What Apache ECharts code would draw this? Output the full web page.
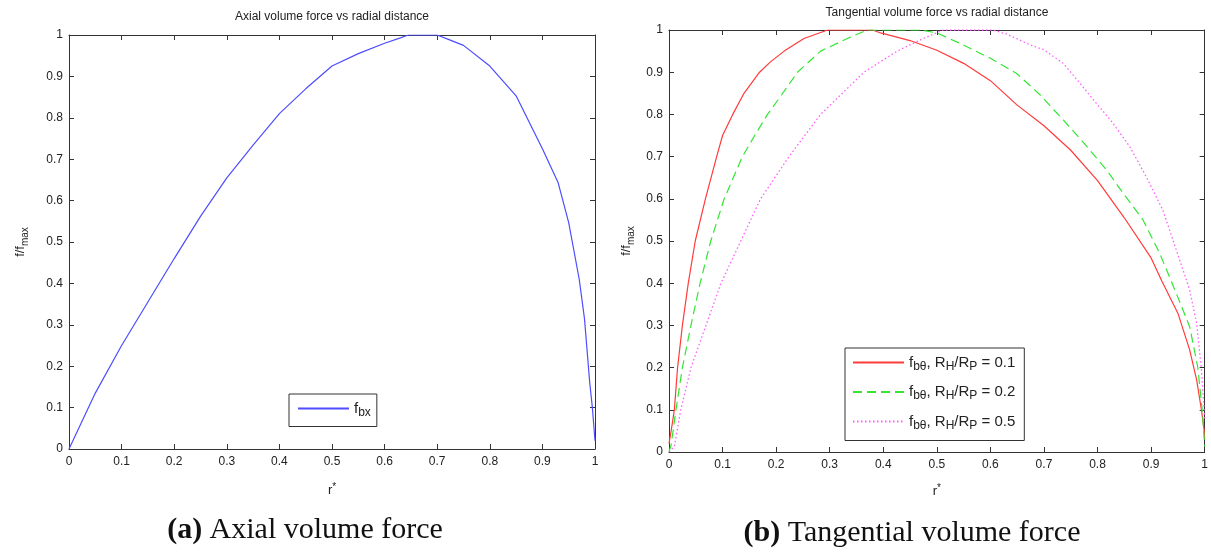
<!DOCTYPE html>
<html>
<head>
<meta charset="utf-8">
<script src="https://cdn.jsdelivr.net/npm/echarts@6/dist/echarts.min.js"></script>
<style>
html,body{margin:0;padding:0;background:#fff;}
#c{width:1211px;height:553px;}
</style>
</head>
<body>
<div id="c"></div>
<script>
// ---- data ----
var axialR = [0, 0.05, 0.1, 0.15, 0.2, 0.25, 0.3, 0.35, 0.4, 0.45, 0.5, 0.55, 0.6, 0.63, 0.645, 0.66, 0.68, 0.7, 0.72, 0.75, 0.8, 0.85, 0.9, 0.93, 0.95, 0.97, 0.98, 0.99, 0.995, 1.0];
var axialF = [0, 0.135, 0.25, 0.355, 0.46, 0.562, 0.655, 0.734, 0.81, 0.87, 0.925, 0.955, 0.98, 0.993, 1.0, 1.0, 1.0, 1.0, 0.99, 0.975, 0.925, 0.853, 0.725, 0.643, 0.547, 0.41, 0.315, 0.16, 0.1, 0.02];

var tanR1 = [0, 0.004, 0.01, 0.016, 0.025, 0.036, 0.049, 0.068, 0.089, 0.1, 0.119, 0.14, 0.169, 0.19, 0.215, 0.252, 0.296, 0.34, 0.38, 0.395, 0.45, 0.5, 0.55, 0.6, 0.65, 0.7, 0.75, 0.8, 0.85, 0.9, 0.92, 0.95, 0.972, 0.985, 0.994, 0.999, 1.0];
var tanF1 = [0.02, 0.05, 0.1, 0.2, 0.3, 0.4, 0.5, 0.6, 0.7, 0.75, 0.8, 0.85, 0.9, 0.925, 0.95, 0.98, 1.0, 1.0, 1.0, 0.993, 0.975, 0.952, 0.921, 0.88, 0.822, 0.773, 0.715, 0.643, 0.555, 0.46, 0.405, 0.329, 0.242, 0.171, 0.1, 0.052, 0.03];

var tanR2 = [0, 0.004, 0.013, 0.025, 0.041, 0.058, 0.078, 0.103, 0.137, 0.16, 0.184, 0.21, 0.24, 0.283, 0.333, 0.37, 0.42, 0.47, 0.5, 0.544, 0.6, 0.649, 0.693, 0.736, 0.78, 0.817, 0.848, 0.885, 0.916, 0.947, 0.972, 0.987, 0.996, 1.0];
var tanF2 = [0, 0.017, 0.1, 0.2, 0.3, 0.4, 0.5, 0.6, 0.7, 0.75, 0.8, 0.846, 0.9, 0.95, 0.98, 1.0, 1.0, 1.0, 0.993, 0.968, 0.933, 0.897, 0.846, 0.787, 0.724, 0.668, 0.613, 0.55, 0.471, 0.376, 0.297, 0.202, 0.092, 0.013];

var tanR3 = [0, 0.01, 0.022, 0.041, 0.069, 0.097, 0.134, 0.171, 0.224, 0.283, 0.364, 0.426, 0.475, 0.512, 0.56, 0.605, 0.631, 0.674, 0.7, 0.736, 0.767, 0.798, 0.829, 0.86, 0.891, 0.922, 0.947, 0.972, 0.985, 0.994, 1.0];
var tanF3 = [0, 0.013, 0.1, 0.2, 0.3, 0.4, 0.5, 0.6, 0.7, 0.8, 0.9, 0.95, 0.98, 1.0, 1.0, 1.0, 0.99, 0.965, 0.953, 0.921, 0.874, 0.826, 0.779, 0.724, 0.652, 0.573, 0.479, 0.384, 0.305, 0.195, 0.08];

var legendTexts = {
  fbx: '{n|f}{s|bx}',
  fbt1: '{n|f}{s|bθ}{n|, R}{s|H}{n|/R}{s|P}{n| = 0.1}',
  fbt2: '{n|f}{s|bθ}{n|, R}{s|H}{n|/R}{s|P}{n| = 0.2}',
  fbt3: '{n|f}{s|bθ}{n|, R}{s|H}{n|/R}{s|P}{n| = 0.5}'
};
var titleLeft = 'Axial volume force vs radial distance';
var titleRight = 'Tangential volume force vs radial distance';
var captionLeftTag = '(a)';
var captionLeftText = ' Axial volume force';
var captionRightTag = '(b)';
var captionRightText = ' Tangential volume force';

function pairs(xs, ys) { return xs.map(function (x, i) { return [x, ys[i]]; }); }

var SANS = 'Liberation Sans, Arial, sans-serif';
var SERIF = 'Liberation Serif, DejaVu Serif, serif';
var AX = '#333';
var TXT = '#222';

var richN = { fontSize: 15, lineHeight: 20, verticalAlign: 'middle', fontFamily: SANS, color: TXT };
var richS = { fontSize: 12, lineHeight: 12, verticalAlign: 'bottom', fontFamily: SANS, color: TXT };
var richYS = { fontSize: 10, lineHeight: 10, verticalAlign: 'bottom', fontFamily: SANS, color: TXT };

function mkX(gridIndex, pos, showLabel, nameGap) {
  return {
    type: 'value', gridIndex: gridIndex, position: pos, min: 0, max: 1, interval: 0.1,
    axisLine: { show: true, onZero: false, lineStyle: { color: AX, width: 1 } },
    axisTick: { show: true, inside: true, length: 5, lineStyle: { color: AX } },
    axisLabel: { show: showLabel, color: TXT, fontSize: 12, fontFamily: SANS, margin: 7 },
    splitLine: { show: false },
    name: showLabel ? '{n|r}{u|*}' : '',
    nameLocation: 'middle', nameGap: nameGap,
    nameTextStyle: { rich: { n: { fontSize: 13, lineHeight: 16, verticalAlign: 'middle', fontFamily: SANS, color: TXT }, u: { fontSize: 10, lineHeight: 10, verticalAlign: 'top', fontFamily: SANS, color: TXT } } }
  };
}
function mkY(gridIndex, pos, showLabel, nameGap) {
  return {
    type: 'value', gridIndex: gridIndex, position: pos, min: 0, max: 1, interval: 0.1,
    axisLine: { show: true, onZero: false, lineStyle: { color: AX, width: 1 } },
    axisTick: { show: true, inside: true, length: 5, lineStyle: { color: AX } },
    axisLabel: { show: showLabel, color: TXT, fontSize: 12, fontFamily: SANS, margin: 6 },
    splitLine: { show: false },
    name: showLabel ? '{n|f/f}{s|max}' : '',
    nameLocation: 'middle', nameGap: nameGap, nameRotate: 90,
    nameTextStyle: { rich: { n: { fontSize: 13, lineHeight: 20, verticalAlign: 'middle', fontFamily: SANS, color: TXT }, s: richYS } }
  };
}

function mkLegend(names, left, top, pad, gap) {
  return {
    data: names, left: left, top: top, orient: 'vertical', itemGap: gap,
    padding: pad, itemWidth: 51, itemHeight: 2,
    itemStyle: { opacity: 0, borderWidth: 0 },
    borderColor: '#333', borderWidth: 1, borderRadius: 0, backgroundColor: '#fff',
    formatter: function (n) { return legendTexts[n]; },
    textStyle: { rich: { n: richN, s: richS } }
  };
}

var chart = echarts.init(document.getElementById('c'), null, { renderer: 'canvas' });
var option = {
  animation: false,
  backgroundColor: '#fff',
  grid: [
    { left: 69, right: 1211 - 595, top: 35, bottom: 553 - 449 },
    { left: 669, right: 1211 - 1205, top: 30, bottom: 553 - 452 }
  ],
  xAxis: [mkX(0, 'bottom', true, 33), mkX(0, 'top', false, 0), mkX(1, 'bottom', true, 31), mkX(1, 'top', false, 0)],
  yAxis: [mkY(0, 'left', true, 39), mkY(0, 'right', false, 0), mkY(1, 'left', true, 33), mkY(1, 'right', false, 0)],
  legend: [
    mkLegend(['fbx'], 289, 394, [7, 6, 8, 8], 9),
    mkLegend(['fbt1', 'fbt2', 'fbt3'], 845, 348, [7, 9, 9, 7], 12)
  ],
  graphic: [
    { type: 'text', x: 332, y: 17, style: { text: titleLeft, fontSize: 12, fontFamily: SANS, fill: TXT, align: 'center', verticalAlign: 'middle' } },
    { type: 'text', x: 937, y: 13, style: { text: titleRight, fontSize: 12, fontFamily: SANS, fill: TXT, align: 'center', verticalAlign: 'middle' } },
    { type: 'text', x: 305, y: 530, style: { text: '{b|' + captionLeftTag + '}{r|' + captionLeftText + '}', align: 'center', verticalAlign: 'middle',
        rich: { b: { fontSize: 30, fontWeight: 'bold', fontFamily: SERIF, fill: '#111' }, r: { fontSize: 30, fontFamily: SERIF, fill: '#111' } } } },
    { type: 'text', x: 912, y: 533, style: { text: '{b|' + captionRightTag + '}{r|' + captionRightText + '}', align: 'center', verticalAlign: 'middle',
        rich: { b: { fontSize: 30, fontWeight: 'bold', fontFamily: SERIF, fill: '#111' }, r: { fontSize: 30, fontFamily: SERIF, fill: '#111' } } } }
  ],
  series: [
    { name: 'fbx', type: 'line', xAxisIndex: 0, yAxisIndex: 0, data: pairs(axialR, axialF), showSymbol: false, symbol: 'none',
      lineStyle: { color: '#4d4dff', width: 1.2 }, itemStyle: { color: '#4d4dff' } },
    { name: 'fbt1', type: 'line', xAxisIndex: 2, yAxisIndex: 2, data: pairs(tanR1, tanF1), showSymbol: false, symbol: 'none',
      lineStyle: { color: '#ff3b3b', width: 1.2 }, itemStyle: { color: '#ff3b3b' } },
    { name: 'fbt2', type: 'line', xAxisIndex: 2, yAxisIndex: 2, data: pairs(tanR2, tanF2), showSymbol: false, symbol: 'none',
      lineStyle: { color: '#33e633', width: 1.2, type: [9, 5] }, itemStyle: { color: '#33e633' } },
    { name: 'fbt3', type: 'line', xAxisIndex: 2, yAxisIndex: 2, data: pairs(tanR3, tanF3), showSymbol: false, symbol: 'none',
      lineStyle: { color: '#ff5cff', width: 1.3, type: [1.5, 2.5] }, itemStyle: { color: '#ff5cff' } }
  ]
};
chart.setOption(option);
</script>
</body>
</html>
